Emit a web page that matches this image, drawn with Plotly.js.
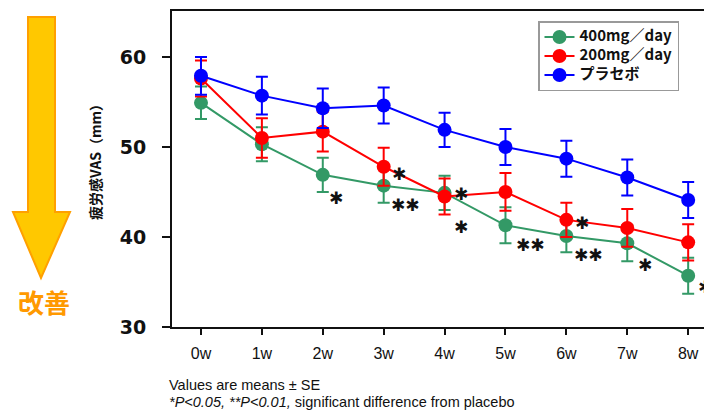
<!DOCTYPE html>
<html><head><meta charset="utf-8">
<script src="https://cdn.plot.ly/plotly-3.0.1.min.js"></script>
<style>html,body{margin:0;padding:0;background:#fff;overflow:hidden}</style>
</head><body>
<div id="chart" style="width:704px;height:412px"></div>
<script>
const weeks = ['0w','1w','2w','3w','4w','5w','6w','7w','8w'];
const seriesNames = ['400mg／day','200mg／day','プラセボ'];
const v400 = [54.9, 50.3, 46.9, 45.7, 44.9, 41.3, 40.1, 39.3, 35.7];
const se400 = [1.8, 1.9, 1.9, 1.9, 1.9, 2.0, 1.8, 2.0, 2.0];
const v200 = [57.6, 51.0, 51.7, 47.8, 44.5, 45.0, 41.9, 41.0, 39.4];
const se200 = [2.0, 2.2, 2.2, 2.1, 2.0, 2.1, 1.9, 2.1, 2.0];
const vPla = [57.9, 55.7, 54.3, 54.6, 51.9, 50.0, 48.7, 46.6, 44.1];
const sePla = [2.1, 2.1, 2.2, 2.0, 1.9, 2.0, 2.0, 2.0, 2.0];
const sig400 = ['', '', '✱', '✱✱', '✱', '✱✱', '✱✱', '✱', '✱'];
const sig200 = ['', '', '', '✱', '✱', '', '✱', '', ''];
const yTicks = [30, 40, 50, 60];

// label placement (pixel offsets from each point)
const sigDx400 = [0, 0, 13, 22, 16, 25, 22, 18, 17];
const sigDy400 = [0, 0, -23, -19, -34, -20, -19, -22, -11];
const sigDx200 = [0, 0, 0, 15, 16, 0, 16, 0, 0];
const sigDy200 = [0, 0, 0, -7, 2, 0, -3, 0, 0];

const colors = ['#339966', '#ff0000', '#0000ff'];
const vals = [v400, v200, vPla];
const ses = [se400, se200, sePla];
const xIdx = weeks.map((w, i) => i);

const traces = vals.map((v, k) => ({
  type: 'scatter', mode: 'lines+markers',
  name: '<b><span style="font-size:15px">' + seriesNames[k] + '</span></b>',
  x: xIdx, y: v,
  line: {color: colors[k], width: 2},
  marker: {color: colors[k], size: 14, symbol: 'circle'},
  error_y: {type: 'data', array: ses[k], visible: true, color: colors[k], thickness: 2, width: 6}
}));

const W = 704, H = 412, L = 172, R = 0, T = 11, B = 85;
const pw = W - L - R, ph = H - T - B;
const px = x => (x - L) / pw;
const py = y => (H - B - y) / ph;

const annotations = [];
function addSig(sig, v, dx, dy) {
  sig.forEach((s, i) => {
    if (!s) return;
    annotations.push({x: i, y: v[i], xref: 'x', yref: 'y', text: s, showarrow: false,
      xshift: dx[i], yshift: dy[i], xanchor: 'center', yanchor: 'middle',
      font: {family: 'DejaVu Sans', size: 17, color: '#111'}});
  });
}
addSig(sig400, v400, sigDx400, sigDy400);
addSig(sig200, v200, sigDx200, sigDy200);

annotations.push({xref: 'paper', yref: 'paper', x: px(95), y: py(159), text: '<b>疲労感VAS（mm）</b>',
  textangle: -90, showarrow: false, xanchor: 'center', yanchor: 'middle',
  font: {family: 'Noto Sans CJK JP', size: 14, color: '#111'}});
annotations.push({xref: 'paper', yref: 'paper', x: px(44), y: py(301), text: '<b>改善</b>',
  showarrow: false, xanchor: 'center', yanchor: 'middle',
  font: {family: 'Noto Sans CJK JP', size: 26, color: '#ff9900'}});
annotations.push({xref: 'paper', yref: 'paper', x: px(167), y: py(385), text: 'Values are means ± SE',
  showarrow: false, xanchor: 'left', yanchor: 'middle',
  font: {family: 'Liberation Sans', size: 14.5, color: '#111'}});
annotations.push({xref: 'paper', yref: 'paper', x: px(167), y: py(402),
  text: '<i>*P&lt;0.05, **P&lt;0.01,</i> significant difference from placebo',
  showarrow: false, xanchor: 'left', yanchor: 'middle',
  font: {family: 'Liberation Sans', size: 14.5, color: '#111'}});

const arrowPts = [[28,17],[55,17],[55,212],[70,212],[41,278],[13,212],[28,212]];
const arrowPath = 'M ' + arrowPts.map(p => px(p[0]) + ',' + py(p[1])).join(' L ') + ' Z';

const layout = {
  width: W, height: H,
  margin: {l: L, r: R, t: T, b: B, pad: 0},
  paper_bgcolor: '#fff', plot_bgcolor: '#fff',
  showlegend: true,
  legend: {x: px(538), y: py(21), xanchor: 'left', yanchor: 'top',
    bgcolor: '#fff', bordercolor: '#999', borderwidth: 1.5,
    font: {family: 'Noto Sans CJK JP', size: 11, color: '#111'},
    tracegroupgap: 0, itemwidth: 30},
  xaxis: {range: [-0.476, 8.26], tickvals: xIdx, ticktext: weeks,
    showgrid: false, zeroline: false, showline: true, linecolor: '#111', linewidth: 2,
    mirror: true, ticks: 'outside', ticklen: 6, tickwidth: 2, tickcolor: '#111',
    ticklabelstandoff: 5,
    tickfont: {family: 'Liberation Sans', size: 16, color: '#111'}},
  yaxis: {range: [30, 65.1], tickvals: yTicks, showgrid: false, zeroline: false,
    showline: true, linecolor: '#111', linewidth: 2,
    ticks: 'outside', ticklen: 8, tickwidth: 2, tickcolor: '#111',
    ticklabelstandoff: 12,
    tickfont: {family: 'DejaVu Sans', size: 19, weight: 'bold', color: '#111'}},
  shapes: [{type: 'path', xref: 'paper', yref: 'paper', path: arrowPath,
    fillcolor: '#ffc800', line: {color: '#ffa000', width: 2}}],
  annotations: annotations
};

Plotly.newPlot('chart', traces, layout, {displayModeBar: false, staticPlot: true});
</script>
</body></html>
